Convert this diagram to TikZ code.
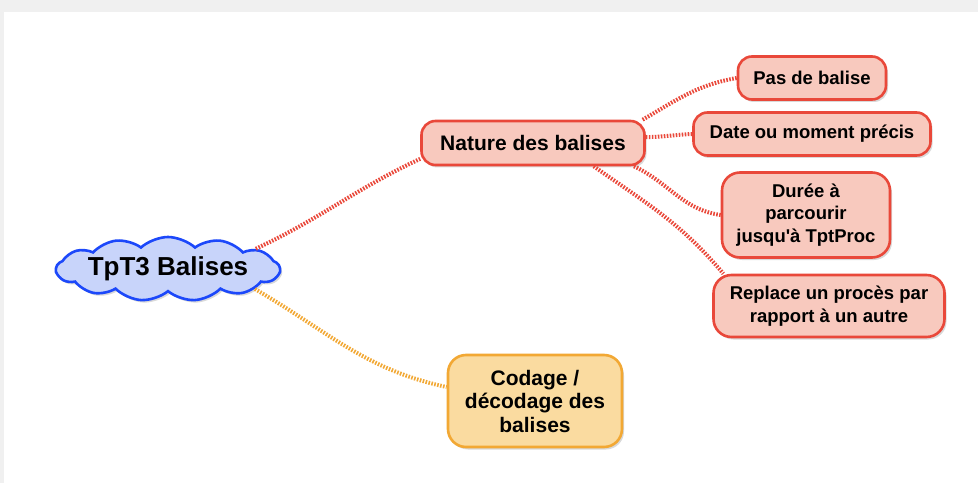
\documentclass[tikz,border=0pt]{standalone}
\usepackage{fontspec}
\setmainfont{Liberation Sans}
\usetikzlibrary{shapes.symbols,shadows}

\definecolor{rouge}{RGB}{233,72,58}
\definecolor{rose}{RGB}{248,201,190}
\definecolor{orangeb}{RGB}{242,168,52}
\definecolor{jaune}{RGB}{250,219,160}
\definecolor{bleu}{RGB}{28,72,250}
\definecolor{bleuclair}{RGB}{200,212,250}

\begin{document}
\begin{tikzpicture}[x=1pt,y=1pt,
    ombre/.style={drop shadow={shadow xshift=2pt,shadow yshift=-2.5pt,opacity=0.3}},
    racine/.style={cloud, cloud puffs=13, cloud puff arc=85, cloud ignores aspect,
        draw=bleu, fill=bleuclair,
        line width=2.6pt, inner sep=0pt, minimum width=220pt, minimum height=64pt,
        font=\fontsize{26}{30}\selectfont\bfseries, ombre},
    boite/.style={rectangle, rounded corners=14pt, draw=rouge, fill=rose, line width=2.6pt,
        inner sep=0pt, align=center, font=\fontsize{18.5}{22.5}\selectfont\bfseries, ombre},
    grande/.style={boite, font=\fontsize{21}{23.5}\selectfont\bfseries},
    jaunebox/.style={grande, draw=orangeb, fill=jaune, rounded corners=18pt},
    lien/.style={draw=rouge, line width=4pt, dash pattern=on 1.6pt off 1.4pt},
    lienjaune/.style={lien, draw=orangeb}]

    % cadre
    \useasboundingbox (0,0) rectangle (978,483);
    \fill[gray!12] (0,471) rectangle (978,483);
    \fill[gray!12] (0,0) rectangle (4,471);

    % Noeuds
    \node[racine] (root) at (168,214) {TpT3 Balises};
    \node[grande, minimum width=223pt, minimum height=44pt] (nature) at (533,340) {Nature des balises};
    \node[boite, minimum width=148pt, minimum height=43pt] (pas) at (812,405) {Pas de balise};
    \node[boite, minimum width=237pt, minimum height=43pt] (date) at (812,349) {Date ou moment précis};
    \node[boite, minimum width=168pt, minimum height=85pt, rounded corners=18pt] (duree) at (806,268)
        {Durée à\\parcourir\\jusqu\textquotesingle à TptProc};
    \node[boite, minimum width=231pt, minimum height=62pt, rounded corners=18pt] (replace) at (829,177)
        {Replace un procès par\\rapport à un autre};
    \node[jaunebox, minimum width=174pt, minimum height=92pt] (codage) at (535,82)
        {Codage /\\décodage des\\balises};

    % Liens
    \draw[lien] (root.13) to[out=25,in=205] (nature.188);
    \draw[lienjaune] (root.-13) to[out=-30,in=168] (codage.171);
    \draw[lien] (nature.12) to[out=30,in=190] (pas.west);
    \draw[lien] (nature.3) to[out=0,in=182] (date.west);
    \draw[lien] (nature.-13) to[out=-25,in=172] (duree.west);
    \draw[lien] (nature.-21) to[out=-35,in=130] (replace.163);

\end{tikzpicture}
\end{document}
